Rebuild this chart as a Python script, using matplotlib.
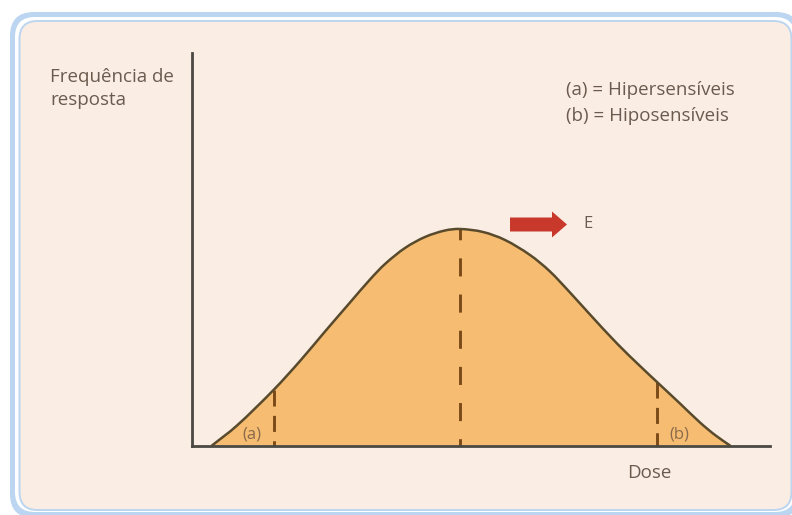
import matplotlib
matplotlib.use("Agg")
import matplotlib.pyplot as plt
from matplotlib.patches import FancyBboxPatch, PathPatch, FancyArrow
from matplotlib.path import Path
import numpy as np

# Response-frequency curve (dose vs. frequency of response, arbitrary units)
dose = [20, 45, 82, 108, 133, 158, 178, 193, 213, 233, 253, 268, 291,
        313, 338, 358, 378, 398, 425, 448, 465, 488, 508, 523, 538]
freq = [0, 20, 56, 84.5, 114, 143, 166, 181.5, 197.5, 208.5, 215, 216.5, 213.5,
        205.5, 190.5, 174, 153, 131, 102, 79.5, 63.5, 42, 23, 10.5, 0]

# Dashed reference doses: hypersensitive limit, mean, hyposensitive limit
mark_idx = [2, 11, 20]
group_labels = ["(a)", "(b)"]
group_label_pos = [(60, 7), (487, 7)]

legend_lines = ["(a) = Hipersensíveis", "(b) = Hiposensíveis"]
y_label_lines = ["Frequência de", "resposta"]
x_label = "Dose"
arrow_label = "E"

W, H = 792, 515
text_color = "#6b5b4e"
plt.rcParams["font.family"] = ["Open Sans", "DejaVu Sans"]

fig = plt.figure(figsize=(W / 100, H / 100), dpi=100)
fig.patch.set_facecolor("white")

# Background panel in pixel coordinates
bg = fig.add_axes([0, 0, 1, 1])
bg.set_xlim(0, W)
bg.set_ylim(H, 0)
bg.axis("off")
bg.add_patch(FancyBboxPatch((10, 12), 790, 506, boxstyle="round,pad=0,rounding_size=24",
                            facecolor="#bcd5f0", edgecolor="none"))
bg.add_patch(FancyBboxPatch((15, 17), 780, 495, boxstyle="round,pad=0,rounding_size=20",
                            facecolor="white", edgecolor="none"))
bg.add_patch(FancyBboxPatch((19.5, 21), 772, 489, boxstyle="round,pad=0,rounding_size=18",
                            facecolor="#faede4", edgecolor="#bcd5f0", linewidth=1.4))

for i, line in enumerate(y_label_lines):
    bg.text(50, 82 + 23 * i, line, fontsize=13.5, color=text_color, ha="left", va="baseline")
for i, line in enumerate(legend_lines):
    bg.text(566, 95 + 26 * i, line, fontsize=13.5, color=text_color, ha="left", va="baseline")
bg.text(627, 478, x_label, fontsize=13.5, color=text_color, ha="left", va="baseline")

# Main plotting area
x0, y0, x1, y1 = 192, 445.5, 770, 53
ax = fig.add_axes([x0 / W, (H - y0) / H, (x1 - x0) / W, (y0 - y1) / H])
ax.set_xlim(0, x1 - x0)
ax.set_ylim(0, y0 - y1)
ax.patch.set_alpha(0)
for s in ["top", "right"]:
    ax.spines[s].set_visible(False)
for s in ["left", "bottom"]:
    ax.spines[s].set_color("#4a4842")
    ax.spines[s].set_linewidth(2)
ax.set_xticks([])
ax.set_yticks([])

# Smooth curve through the points: cubic Hermite segments drawn as Bezier curves
xs = np.asarray(dose, float)
ys = np.asarray(freq, float)
m = np.empty_like(ys)
m[1:-1] = (ys[2:] - ys[:-2]) / (xs[2:] - xs[:-2])
m[0] = (ys[1] - ys[0]) / (xs[1] - xs[0])
m[-1] = (ys[-1] - ys[-2]) / (xs[-1] - xs[-2])
verts = [(xs[0], ys[0])]
codes = [Path.MOVETO]
for i in range(len(xs) - 1):
    h = xs[i + 1] - xs[i]
    verts += [(xs[i] + h / 3, ys[i] + m[i] * h / 3),
              (xs[i + 1] - h / 3, ys[i + 1] - m[i + 1] * h / 3),
              (xs[i + 1], ys[i + 1])]
    codes += [Path.CURVE4] * 3
curve = Path(verts, codes)
fill_path = Path(verts + [(xs[0], 0)], codes + [Path.CLOSEPOLY])
ax.add_patch(PathPatch(fill_path, facecolor="#f6bd72", edgecolor="none", zorder=1))
ax.add_patch(PathPatch(curve, facecolor="none", edgecolor="#5a4a2c", linewidth=1.8,
                       zorder=3, capstyle="round"))

# Dashed reference lines
side_dash = (0, (5.5, 3.2))
dash_styles = {mark_idx[0]: side_dash, mark_idx[1]: (2.5, (6.2, 6.2)), mark_idx[2]: side_dash}
for k in mark_idx:
    ax.plot([dose[k], dose[k]], [freq[k], 0], color="#7a4a18", linewidth=2.1,
            linestyle=dash_styles[k], zorder=2, solid_capstyle="butt")

for lab, (px, py) in zip(group_labels, group_label_pos):
    ax.text(px, py, lab, fontsize=12, color="#8a6a4a", ha="center", va="baseline", zorder=4)

# Shift arrow
ax.add_patch(FancyArrow(318, 221, 57, 0, width=14, head_width=26, head_length=15,
                        length_includes_head=True, color="#c8392b", linewidth=0, zorder=4))
ax.text(391, 217.5, arrow_label, fontsize=12, color=text_color, ha="left", va="baseline")

fig.savefig("out.png", dpi=100, facecolor=fig.get_facecolor())
